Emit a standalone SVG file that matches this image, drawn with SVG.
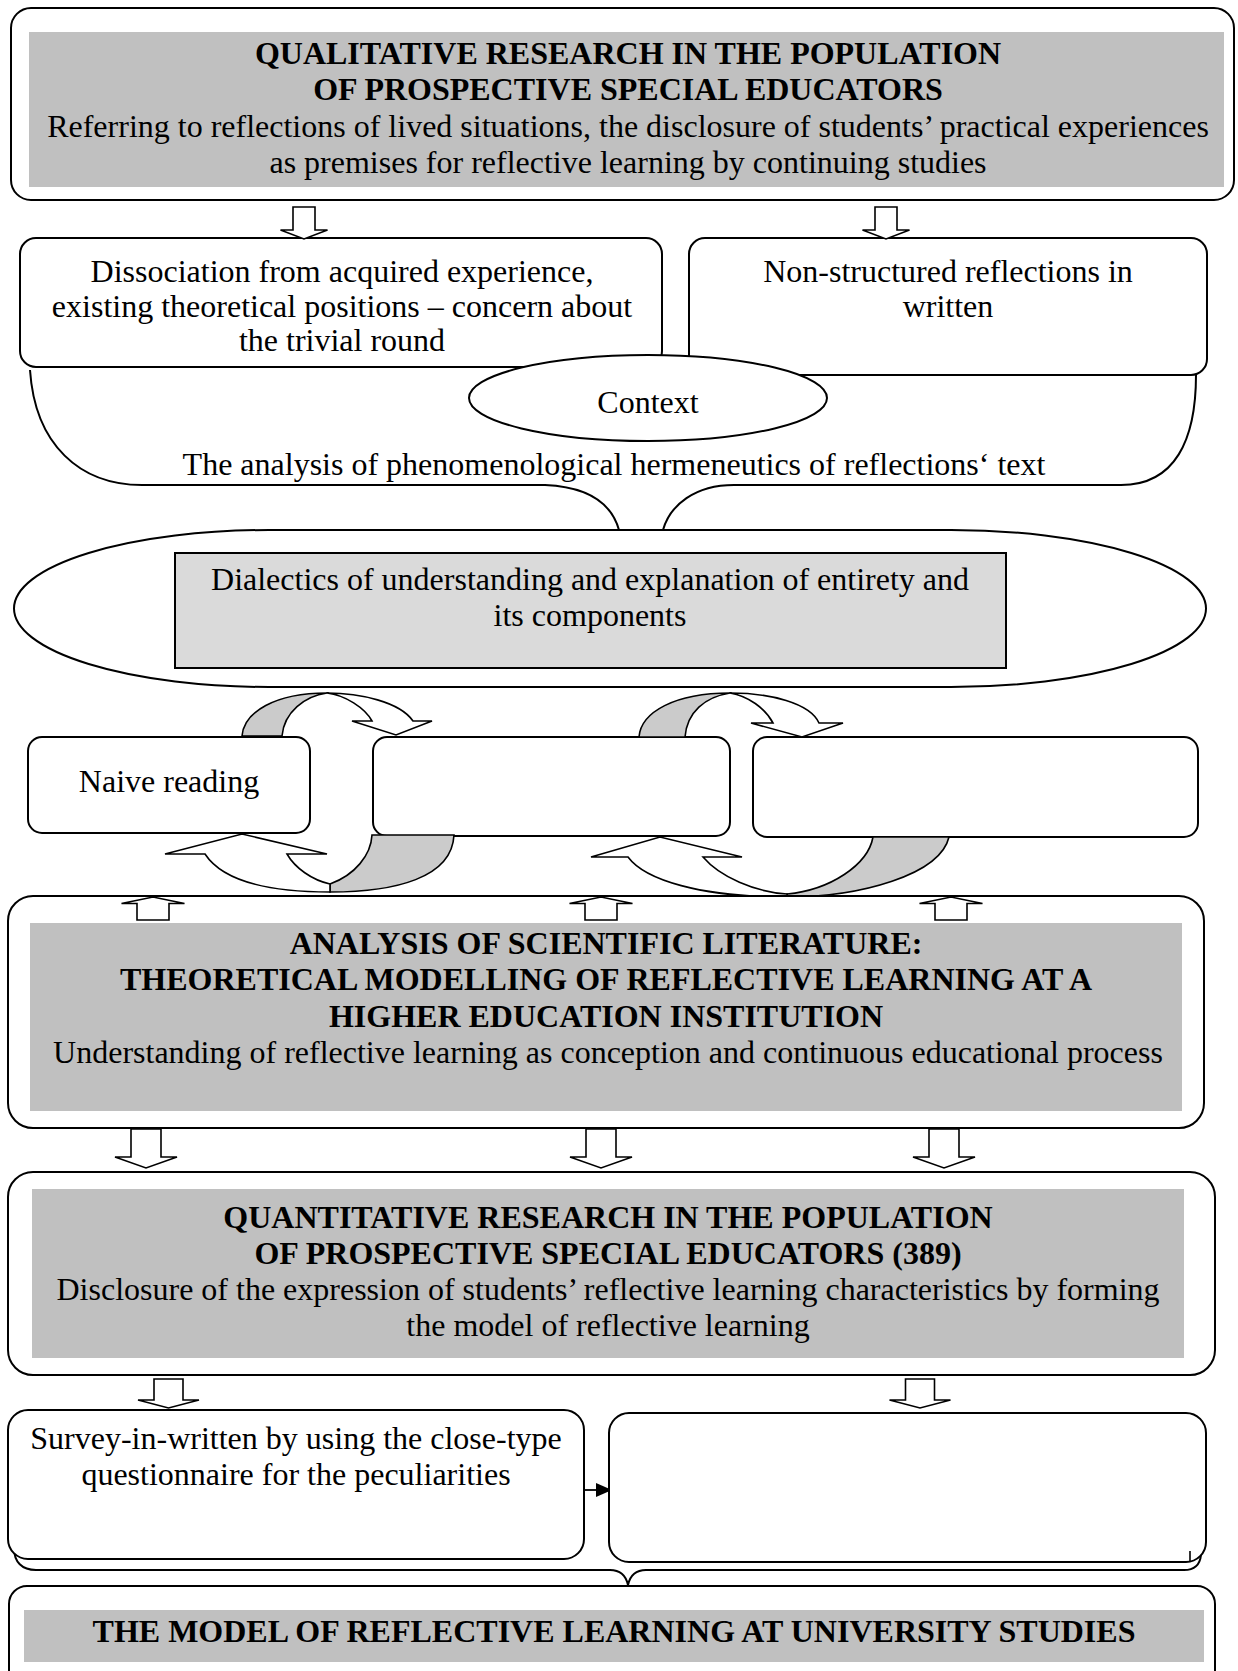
<svg xmlns="http://www.w3.org/2000/svg" width="1238" height="1671" viewBox="0 0 1238 1671">
<defs>
<style>
.box{fill:#fff;stroke:#000;stroke-width:2}
.band{fill:#c0c0c0}
.t{font-family:"Liberation Serif","Times New Roman",serif;font-size:32px;text-anchor:middle;fill:#000}
.b{font-weight:bold}
.blk{fill:#fff;stroke:#000;stroke-width:1.6;stroke-linejoin:miter}
.shade{fill:#cbcbcb;stroke:#000;stroke-width:1.6}
.line{fill:none;stroke:#000;stroke-width:2}
</style>
<marker id="ah" markerWidth="16" markerHeight="14" refX="16" refY="7" orient="auto" markerUnits="userSpaceOnUse">
<path d="M0,0 L16,7 L0,14 Z" fill="#000"/>
</marker>
</defs>
<rect width="1238" height="1671" fill="#fff"/>

<g id="qualitative">
<rect class="box" x="11" y="8" width="1223" height="192" rx="20"/>
<rect class="band" x="29" y="32" width="1195" height="155"/>
<text class="t b" x="628" y="64">QUALITATIVE RESEARCH IN THE POPULATION</text>
<text class="t b" x="628" y="100">OF PROSPECTIVE SPECIAL EDUCATORS</text>
<text class="t" x="628" y="137">Referring to reflections of lived situations, the disclosure of students’ practical experiences</text>
<text class="t" x="628" y="173">as premises for reflective learning by continuing studies</text>
</g>

<g id="dissociation">
<rect class="box" x="20" y="238" width="642" height="129" rx="16"/>
<text class="t" x="342" y="282">Dissociation from acquired experience,</text>
<text class="t" x="342" y="316.5">existing theoretical positions – concern about</text>
<text class="t" x="342" y="351">the trivial round</text>
</g>

<g id="non-structured">
<rect class="box" x="689" y="238" width="518" height="137" rx="16"/>
<text class="t" x="948" y="282">Non-structured reflections in</text>
<text class="t" x="948" y="316.5">written</text>
</g>

<g id="connectors">
<path class="blk" d="M293,207 L293,230 L280.5,230 L304,239 L327.5,230 L315,230 L315,207 Z"/>
<path class="blk" d="M875,207 L875,230 L862.5,230 L886,239 L909.5,230 L897,230 L897,207 Z"/>
<path class="line" d="M30,370 C35,445 80,485 142,485 L545,485 C590,487 612,505 619,530"/>
<path class="line" d="M663,530 C670,505 695,485 734,485 L1121,485 C1175,485 1196,440 1196,375"/>
<text class="t" x="614" y="475">The analysis of phenomenological hermeneutics of reflections‘ text</text>
</g>

<g id="context">
<ellipse cx="648" cy="398" rx="179" ry="43" fill="#fff" stroke="#000" stroke-width="2"/>
<text class="t" x="648" y="413">Context</text>
</g>

<g id="dialectics">
<rect class="box" x="14" y="530" width="1192" height="157" rx="255" ry="78.5"/>
<rect x="175" y="553" width="831" height="115" fill="#dadada" stroke="#000" stroke-width="2"/>
<text class="t" x="590" y="590">Dialectics of understanding and explanation of entirety and</text>
<text class="t" x="590" y="626">its components</text>
</g>

<g id="naive-reading">
<rect class="box" x="28" y="737" width="282" height="96" rx="14"/>
<text class="t" x="169" y="792">Naive reading</text>
</g>
<g id="stage-2">
<rect class="box" x="373" y="737" width="357" height="99" rx="14"/>
</g>
<g id="stage-3">
<rect class="box" x="753" y="737" width="445" height="100" rx="14"/>
</g>

<g id="cycle-arrows">
<path class="shade" d="M242,736 C244,712 275,693 327,693 C305,696 284,712 282,736 Z"/>
<path class="blk" d="M327,693 C360,693 400,702 413,721 L432,721 L396,735 L352,721 L372,721 C365,708 345,695 327,693 Z"/>
<path class="shade" d="M330,892 C395,892 452,878 454,835 L372,835 C371,855 355,875 330,884 Z"/>
<path class="blk" d="M205,854 C222,880 265,892 330,892 L330,884 C312,880 295,868 287,854 L327,854 L242,834 L165,854 Z"/>
<path class="shade" d="M639,737 C641,712 675,693 730,693 C705,697 687,712 685,737 Z"/>
<path class="blk" d="M730,693 C770,693 810,703 819,723 L843,723 L802,737 L751,723 L773,723 C765,708 748,696 730,693 Z"/>
<path class="shade" d="M787,897 C860,897 940,875 949,837 L873,837 C868,865 830,890 787,894 Z"/>
<path class="blk" d="M628,857 C645,880 700,897 787,897 L787,894 C755,892 720,877 703,857 L742,857 L660,837 L591,857 Z"/>
</g>

<g id="analysis">
<rect class="box" x="8" y="896" width="1196" height="232" rx="25"/>
<rect class="band" x="30" y="923" width="1152" height="188"/>
<text class="t b" x="606" y="954">ANALYSIS OF SCIENTIFIC LITERATURE:</text>
<text class="t b" x="606" y="990">THEORETICAL MODELLING OF REFLECTIVE LEARNING AT A</text>
<text class="t b" x="606" y="1026.5">HIGHER EDUCATION INSTITUTION</text>
<text class="t" x="608" y="1062.5">Understanding of reflective learning as conception and continuous educational process</text>
</g>

<g id="connectors-2">
<path class="blk" d="M137,920 L137,903.5 L121.5,903.5 L153,897 L184.5,903.5 L169,903.5 L169,920 Z"/>
<path class="blk" d="M585,920 L585,903.5 L569.5,903.5 L601,897 L632.5,903.5 L617,903.5 L617,920 Z"/>
<path class="blk" d="M935,920 L935,903.5 L919.5,903.5 L951,897 L982.5,903.5 L967,903.5 L967,920 Z"/>
<path class="blk" d="M131,1129 L131,1157 L115,1157 L146,1168 L177,1157 L161,1157 L161,1129 Z"/>
<path class="blk" d="M586,1129 L586,1157 L570,1157 L601,1168 L632,1157 L616,1157 L616,1129 Z"/>
<path class="blk" d="M929,1129 L929,1157 L913,1157 L944,1168 L975,1157 L959,1157 L959,1129 Z"/>
<path class="blk" d="M154,1379 L154,1400 L138,1400 L168.5,1408 L199,1400 L183,1400 L183,1379 Z"/>
<path class="blk" d="M905.5,1379 L905.5,1400 L889.5,1400 L920,1408 L950.5,1400 L934.5,1400 L934.5,1379 Z"/>
<line x1="584" y1="1490" x2="612" y2="1490" stroke="#000" stroke-width="1.8" marker-end="url(#ah)"/>
<path class="line" d="M14,1548 C14,1562 22,1570 36,1570 L610,1570 C620,1570 626,1576 628,1585 C630,1576 636,1570 646,1570 L1184,1570 C1194,1570 1200,1565 1201,1555"/>
</g>

<g id="quantitative">
<rect class="box" x="8" y="1172" width="1207" height="203" rx="25"/>
<rect class="band" x="32" y="1189" width="1152" height="169"/>
<text class="t b" x="608" y="1228">QUANTITATIVE RESEARCH IN THE POPULATION</text>
<text class="t b" x="608" y="1264">OF PROSPECTIVE SPECIAL EDUCATORS (389)</text>
<text class="t" x="608" y="1300">Disclosure of the expression of students’ reflective learning characteristics by forming</text>
<text class="t" x="608" y="1336">the model of reflective learning</text>
</g>

<g id="survey">
<rect class="box" x="8" y="1410" width="576" height="149" rx="20"/>
<text class="t" x="296" y="1449">Survey-in-written by using the close-type</text>
<text class="t" x="296" y="1485">questionnaire for the peculiarities</text>
</g>

<g id="survey-result">
<rect class="box" x="609" y="1413" width="597" height="149" rx="20"/>
<line x1="1190" y1="1551" x2="1190" y2="1562" stroke="#000" stroke-width="1.6"/>
</g>

<g id="model">
<rect class="box" x="9" y="1586" width="1206" height="110" rx="18"/>
<rect class="band" x="24" y="1610" width="1180" height="52"/>
<text class="t b" x="614" y="1642">THE MODEL OF REFLECTIVE LEARNING AT UNIVERSITY STUDIES</text>
</g>
</svg>
